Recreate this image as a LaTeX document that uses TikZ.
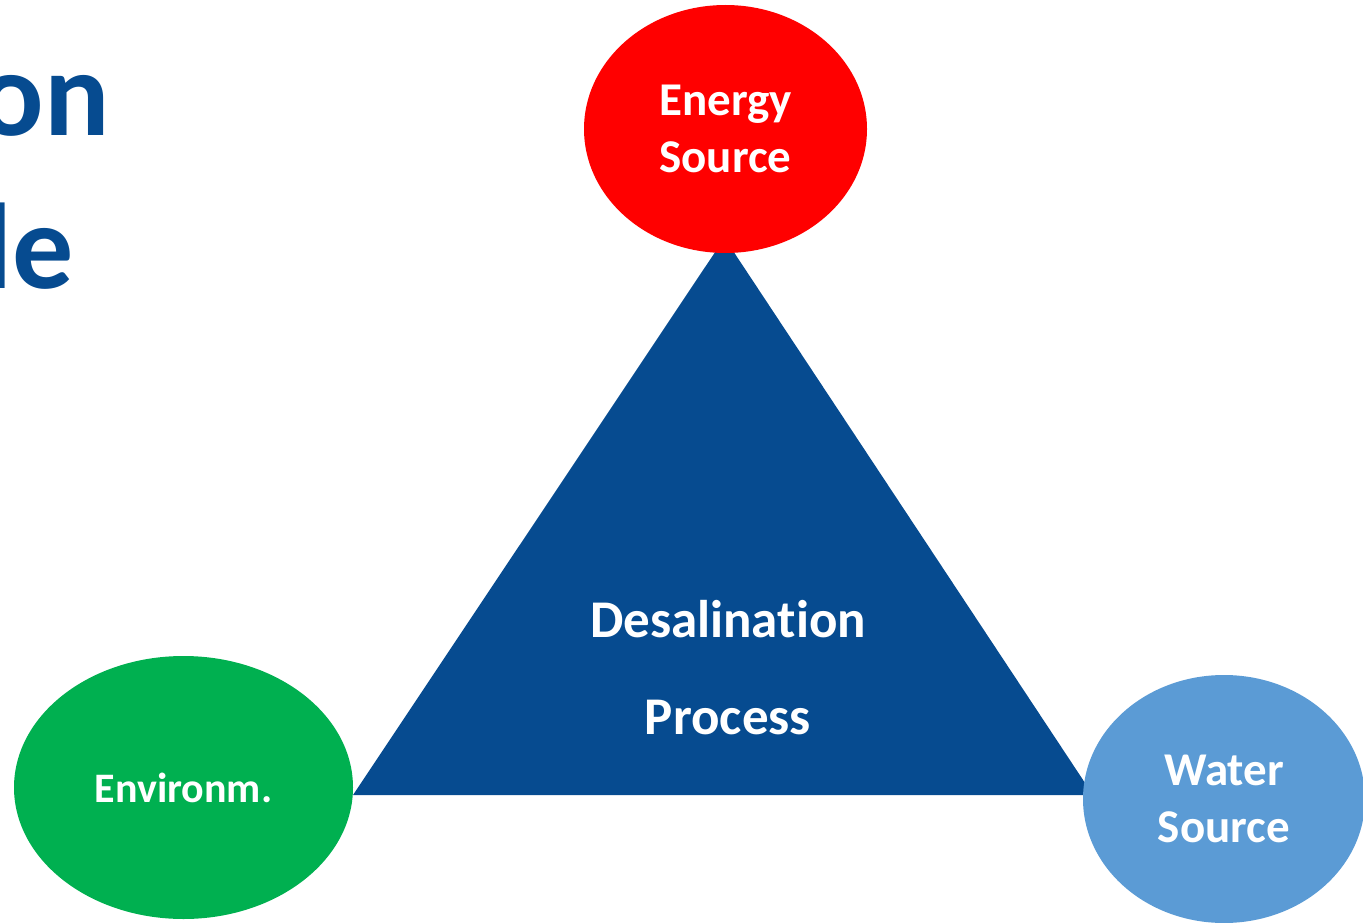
\documentclass[tikz,border=0pt]{standalone}
\usepackage{fontspec}
\setmainfont{Carlito}[Ligatures={NoCommon}]
\usetikzlibrary{shapes.geometric}
\definecolor{deepblue}{HTML}{064B90}
\definecolor{energyred}{HTML}{FF0000}
\definecolor{envgreen}{HTML}{00B050}
\definecolor{waterblue}{HTML}{5B9BD5}
\begin{document}
\begin{tikzpicture}[x=1pt,y=-1pt,
  blob/.style={ellipse, inner sep=0pt, align=center, text=white,
    font=\bfseries\fontsize{47}{57}\selectfont},
  headline/.style={anchor=base east, inner sep=0pt, text=deepblue,
    font=\bfseries\fontsize{122}{122}\selectfont}]
  \useasboundingbox (0,0) rectangle (1363,923);
  \clip (0,0) rectangle (1363,923);
  % heading, running off the left edge
  \node[headline] (head1) at (110,136) {on};
  \node[headline] (head2) at (74,288) {le};
  % central triangle
  \coordinate (apex) at (724.5,238);
  \coordinate (left) at (353,795);
  \coordinate (right) at (1093,795);
  \fill[deepblue] (apex) -- (right) -- (left) -- cycle;
  \node[text=white, align=center, inner sep=0pt,
    font=\bfseries\fontsize{53}{97}\selectfont] (process) at (728,668)
    {Desalination\\Process};
  % the three corner ellipses
  \node[blob, fill=energyred, minimum width=283pt, minimum height=248pt]
    (energy) at (725.5,129) {Energy\\Source};
  \node[blob, fill=envgreen, minimum width=339pt, minimum height=263pt,
    font=\bfseries\fontsize{42}{48}\selectfont]
    (env) at (183.5,787.5) {Environm.};
  \node[blob, fill=waterblue, minimum width=282pt, minimum height=248pt,
    text depth=0pt]
    (water) at (1224,799) {Water\\Source};
\end{tikzpicture}
\end{document}
